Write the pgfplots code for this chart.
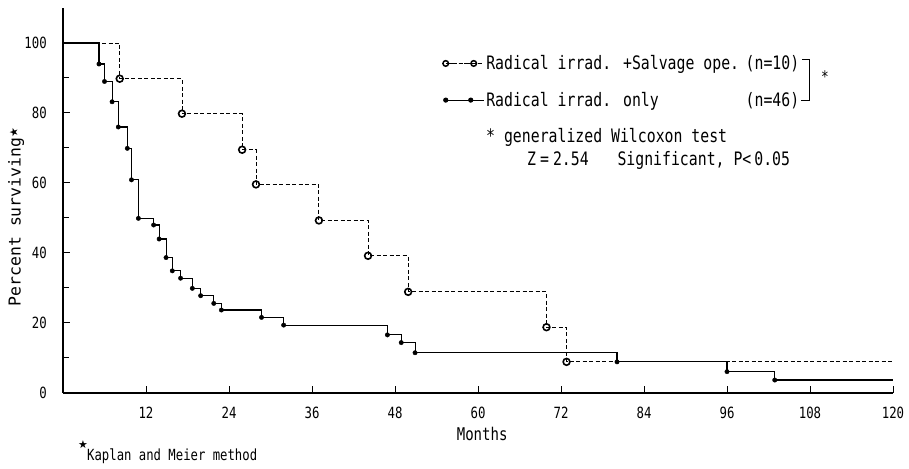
\documentclass[border=0pt]{standalone}
\usepackage{fontspec}
\setmainfont{DejaVu Sans Mono}[FakeStretch=0.8]
\newfontfamily\symfont{DejaVu Sans}
\newfontfamily\widemono{DejaVu Sans Mono}
\usepackage{pgfplots}
\pgfplotsset{compat=1.18}

\pgfplotstableread{
x y
0 100
8.2 89.8
17.2 79.8
25.9 69.5
27.9 59.6
37.0 49.3
44.1 39.2
49.9 28.9
69.9 18.8
72.8 8.9
120 8.9
}\salvage

\pgfplotstableread{
x y
0 100
5.2 94.0
6.0 89.0
7.1 83.2
8.0 76.0
9.3 69.9
9.9 60.9
10.9 49.9
13.1 48.0
13.9 44.0
14.9 38.7
15.8 34.9
17.0 32.8
18.7 29.9
19.9 27.8
21.8 25.6
22.9 23.7
28.7 21.6
31.9 19.4
46.9 16.6
48.9 14.4
50.9 11.5
80.1 8.9
96.0 6.1
102.9 3.7
120 3.7
}\radonly

\begin{document}
\begin{tikzpicture}
\useasboundingbox (0,0) rectangle (909bp,469bp);
\begin{axis}[
  at={(63bp,76bp)}, anchor=south west,
  scale only axis, width=830bp, height=385bp,
  xmin=0, xmax=120, ymin=0, ymax=110,
  axis x line=bottom, axis y line=left,
  axis line style={line width=1.5bp, -},
  xtick={12,24,...,120}, ytick={0,20,...,100}, minor ytick={10,30,...,90},
  tick align=inside, major tick length=7bp, minor tick length=6bp,
  tick style={line width=1bp, black},
  /pgf/number format/assume math mode=true,
  ticklabel style={font=\fontsize{15.5}{16}\selectfont, inner sep=0pt},
  xticklabel style={anchor=center, yshift=-20bp},
  yticklabel style={anchor=east, xshift=-16bp},
  xlabel={Months},
  xlabel style={at={(axis description cs:0.505,-0.106)}, anchor=center, font=\fontsize{17.6}{18}\selectfont},
  ylabel={Percent surviving{\symfont\fontsize{11}{11}\selectfont\raisebox{3bp}{★}}},
  ylabel style={at={(axis description cs:-0.0566,0.457)}, anchor=center, rotate=0, font=\widemono\fontsize{16.5}{18}\selectfont},
  legend style={at={(axis description cs:0.4566,0.882)}, anchor=north west, draw=none, fill=none,
    font=\fontsize{18.6}{20}\selectfont, row sep=17bp, inner sep=0pt},
  legend cell align=left,
  clip=false,
]
\addplot[black, line width=0.9bp, dash pattern=on 4bp off 2.5bp, const plot,
  legend image code/.code={
    \draw[black, line width=0.9bp, dash pattern=on 3bp off 2bp] (3bp,0bp) -- (25bp,0bp);
    \draw[black, line width=1.5bp, fill=white, solid] (0bp,0bp) circle (2.8bp);
    \draw[black, line width=1.5bp, fill=white, solid] (28bp,0bp) circle (2.8bp);
    \path (0bp,0bp) -- (38bp,0bp);
  }] table[x=x, y=y] {\salvage};
\addlegendentry{\makebox[313bp][l]{Radical irrad. +Salvage ope.\hfill(n=10)}}
\addplot[black, line width=1.1bp, const plot,
  legend image code/.code={
    \draw[black, line width=1bp] (0bp,0bp) -- (25bp,0bp);
    \fill[black] (0bp,0bp) circle (2bp);
    \fill[black] (25bp,0bp) circle (2bp);
    \path (0bp,0bp) -- (38bp,0bp);
  }] table[x=x, y=y] {\radonly};
\addlegendentry{\makebox[313bp][l]{Radical irrad. only\hfill(n=46)}}
\addplot[only marks, mark=*, mark size=2.2bp, black, forget plot,
  skip coords between index={0}{1}, skip coords between index={25}{26}] table[x=x, y=y] {\radonly};
\addplot[only marks, mark=o, mark size=3.4bp, black, forget plot,
  mark options={solid, fill=white, line width=1.6bp},
  skip coords between index={0}{1}, skip coords between index={10}{11}] table[x=x, y=y] {\salvage};
\end{axis}
% bracket and star
\draw[line width=0.9bp] (802bp,410bp) -- (809bp,410bp) -- (809bp,369bp) -- (801bp,369bp);
\node[font=\fontsize{16}{16}\selectfont, inner sep=0pt] at (825bp,392bp) {*};
\node[anchor=west, inner sep=0pt, font=\fontsize{18.6}{20}\selectfont] at (486bp,332bp) {* generalized Wilcoxon test};
\node[anchor=west, inner sep=0pt, font=\fontsize{18.6}{20}\selectfont] at (527bp,309bp) {Z\hspace{4bp}=\hspace{4bp}2.54\ \ \ \hspace{2bp}Significant, P<\hspace{3bp}0.05};
\node[inner sep=0pt, font=\symfont\fontsize{11}{11}\selectfont] at (83bp,24bp) {★};
\node[anchor=west, inner sep=0pt, font=\fontsize{15.4}{16}\selectfont] at (87bp,13bp) {Kaplan and Meier method};
\end{tikzpicture}
\end{document}
